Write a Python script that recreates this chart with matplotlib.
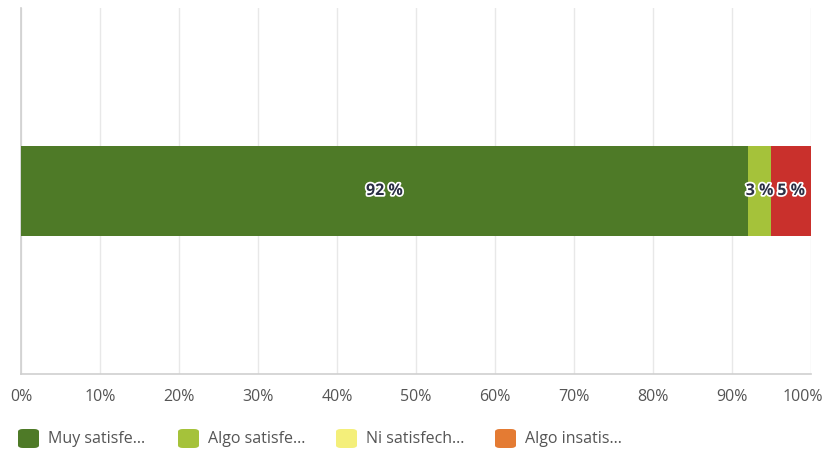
import matplotlib.pyplot as plt
import matplotlib.patheffects as pe
import matplotlib.transforms as mtransforms
from matplotlib.patches import FancyBboxPatch

plt.rcParams['font.family'] = ['Open Sans', 'DejaVu Sans']

categorias = ['Muy satisfecho', 'Algo satisfecho', 'Ni satisfecho ni insatisfecho',
              'Algo insatisfecho', 'Muy insatisfecho']
valores = [92, 3, 0, 0, 5]
colores = ['#4e7a27', '#a5c23a', '#f4ef7a', '#e47b33', '#c9302c']
etiquetas_leyenda = ['Muy satisfe...', 'Algo satisfe...', 'Ni satisfech...', 'Algo insatis...']
ticks = list(range(0, 101, 10))

fig = plt.figure(figsize=(8.24, 4.51), dpi=100)
ax = fig.add_axes([0.0255, 0.1707, 0.9587, 0.8116])

inicio = 0
for cat, v, c in zip(categorias, valores, colores):
    if v > 0:
        ax.barh(0, v, left=inicio, height=0.497, color=c, edgecolor='none', zorder=3)
        ax.text(inicio + v / 2, 0, f'{v} %', ha='center', va='center',
                fontsize=11.5, fontweight='bold', color='#2b2f45', zorder=4,
                path_effects=[pe.withStroke(linewidth=2.5, foreground='white')])
    inicio += v

ax.set_xlim(0, 100)
ax.set_ylim(-1, 1)
ax.set_xticks(ticks)
ax.set_xticklabels([f'{t}%' for t in ticks], fontsize=11.5, color='#555555')
ax.set_yticks([])
ax.tick_params(axis='x', length=0, pad=11)
# el ultimo rotulo se corre un poco para que quepa
ultimo = ax.get_xticklabels()[-1]
ultimo.set_transform(ultimo.get_transform() +
                     mtransforms.ScaledTranslation(-8 / 100, 0, fig.dpi_scale_trans))
ax.grid(axis='x', color='#e8e8e8', linewidth=1, zorder=0)
for s in ['top', 'right']:
    ax.spines[s].set_visible(False)
for s in ['left', 'bottom']:
    ax.spines[s].set_color('#cfcfcf')
    ax.spines[s].set_linewidth(1.2)

# leyenda dibujada a mano
xs = [18, 178, 336, 495]
for x, c, t in zip(xs, colores[:4], etiquetas_leyenda):
    fig.patches.append(FancyBboxPatch((x / 824, 1 - 448 / 451), 21 / 824, 19 / 451,
                                      boxstyle='round,pad=0,rounding_size=0.006',
                                      transform=fig.transFigure, facecolor=c,
                                      edgecolor='none'))
    fig.text((x + 30) / 824, 1 - 439 / 451, t, fontsize=11.5, color='#555555',
             va='center', ha='left')

plt.savefig('out.png', dpi=100)
